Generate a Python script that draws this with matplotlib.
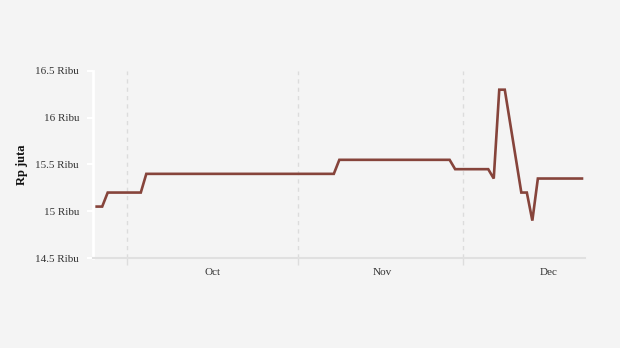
import matplotlib
matplotlib.use("Agg")
import matplotlib.pyplot as plt
import matplotlib.ticker as mticker
import pandas as pd

# Price series (Rp juta), one point per recorded day
dates = ["2023-09-25", "2023-09-26", "2023-09-27", "2023-10-03", "2023-10-04",
         "2023-11-07", "2023-11-08", "2023-11-28", "2023-11-29", "2023-12-05",
         "2023-12-06", "2023-12-07", "2023-12-08", "2023-12-11", "2023-12-12",
         "2023-12-13", "2023-12-14", "2023-12-22"]
prices = [15.05, 15.05, 15.2, 15.2, 15.4,
          15.4, 15.55, 15.55, 15.45, 15.45,
          15.35, 16.3, 16.3, 15.2, 15.2,
          14.9, 15.35, 15.35]

y_ticks = [14.5, 15, 15.5, 16, 16.5]
month_starts = ["2023-10-01", "2023-11-01", "2023-12-01"]
month_mids = ["2023-10-16 12:00", "2023-11-16 06:00", "2023-12-16 12:00"]
month_names = ["Oct", "Nov", "Dec"]

BG = "#f4f4f4"
LINE = "#86443b"

plt.rcParams["font.family"] = ["Liberation Serif", "DejaVu Serif"]

fig = plt.figure(figsize=(6.2, 3.48), dpi=100, facecolor=BG)
ax = fig.add_axes([0.15, 0.2586, 0.7935, 0.5374], facecolor=BG)

x = pd.to_datetime(dates) + pd.Timedelta(hours=12)
ax.plot(x, prices, color=LINE, linewidth=1.9, solid_joinstyle="miter", zorder=3)

ax.set_ylim(14.5, 16.5)
ax.set_xlim(pd.Timestamp("2023-09-24 20:00"), pd.Timestamp("2023-12-23 01:00"))

ax.set_yticks(y_ticks)
ax.yaxis.set_major_formatter(mticker.FuncFormatter(lambda v, p: f"{v:g} Ribu"))
ax.tick_params(axis="y", length=4, width=1.5, color="white", labelsize=8,
               labelcolor="#333333", pad=6)

ax.set_xticks(pd.to_datetime(month_starts))
ax.xaxis.set_major_formatter(mticker.NullFormatter())
ax.set_xticks(pd.to_datetime(month_mids), minor=True)
ax.set_xticklabels(month_names, minor=True)
ax.tick_params(axis="x", which="major", length=5, width=1, color="#dddddd")
ax.tick_params(axis="x", which="minor", length=0, labelsize=8,
               labelcolor="#333333", pad=7)
ax.grid(axis="x", which="major", color="#dcdcdc", linestyle=(0, (3, 3)),
        linewidth=1, zorder=1)

for side in ["top", "right"]:
    ax.spines[side].set_visible(False)
ax.spines["left"].set_color("white")
ax.spines["left"].set_linewidth(2)
ax.spines["bottom"].set_color("#e0e0e0")
ax.spines["bottom"].set_linewidth(1.5)

ax.set_ylabel("Rp juta", fontsize=9, fontweight="bold", color="#111111", labelpad=5)

fig.savefig("out.png", dpi=100, facecolor=BG)
